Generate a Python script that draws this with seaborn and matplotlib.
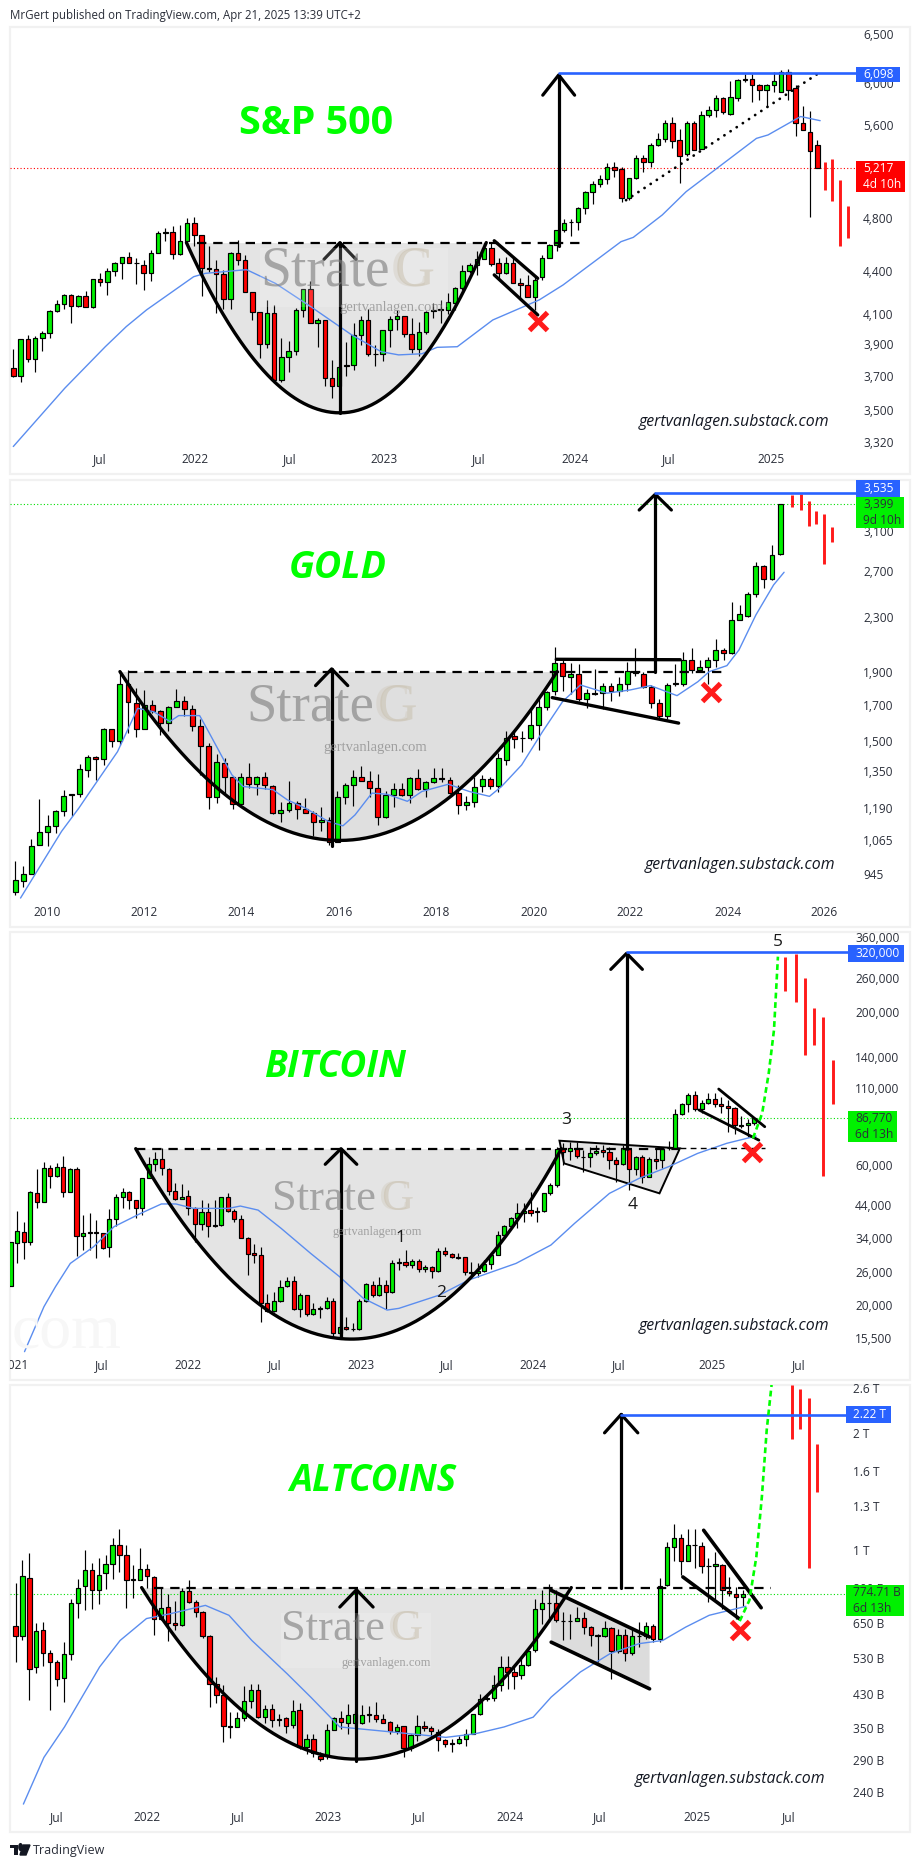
import numpy as np
import seaborn as sns
import matplotlib
matplotlib.use('Agg')
import matplotlib.pyplot as plt
from matplotlib.patches import Rectangle, Circle, Polygon
from matplotlib.ticker import NullLocator

W, H = 914, 1867
GREEN = '#00f000'
RED = '#ff0000'
BLUE = '#2962ff'
MA_BLUE = '#5b8def'
TEXT = '#2a2e39'

# S&P 500
sp_open = [3753,3702,3936,3809,3942,3975,4118,4168,4230,4152,
    4223,4147,4342,4321,4400,4458,4502,4460,4448,4385,
    4532,4684,4692,4525,4621,4761,4668,4421,4414,4378,
    4203,4532,4480,4251,4113,3904,4107,3678,3821,3859,
    4127,4272,4040,4058,3692,3639,3768,3768,3959,4058,
    3840,3838,3994,4067,4085,3968,3871,3979,4120,4134,
    4125,4178,4278,4404,4442,4490,4574,4457,4388,4457,
    4318,4304,4215,4355,4500,4592,4708,4773,4768,4880,
    5010,5077,5119,5222,5205,4960,5127,5298,5270,5413,
    5467,5612,5458,5335,5621,5384,5694,5737,5853,5704,
    5853,6035,6035,5976,5935,5983,5914,6105,5947,5612,
    5535,5419]
sp_close = [3702,3936,3809,3942,3975,4120,4168,4230,4152,4223,
    4147,4342,4321,4400,4458,4502,4458,4456,4385,4532,
    4684,4692,4525,4621,4761,4668,4421,4414,4378,4203,
    4532,4480,4251,4113,3904,4107,3678,3821,3859,4127,
    4272,4040,4058,3692,3639,3760,3764,3959,4058,3840,
    3838,3994,4067,4085,3968,3871,3979,4111,4125,4129,
    4180,4278,4404,4442,4490,4574,4455,4388,4457,4318,
    4302,4215,4336,4500,4592,4708,4766,4768,4880,5010,
    5077,5119,5222,5202,4960,5127,5298,5270,5413,5467,
    5612,5449,5322,5621,5375,5694,5734,5853,5720,5863,
    6025,6028,5976,5928,5983,6014,6105,5930,5612,5550,
    5366,5217]
sp_high = [3871,3936,3961,3957,3990,4129,4193,4240,4240,4232,
    4260,4347,4385,4424,4470,4502,4542,4495,4478,4556,
    4704,4723,4740,4748,4800,4808,4668,4586,4482,4409,
    4542,4631,4519,4251,4113,4198,4164,3942,3920,4138,
    4272,4326,4074,4063,3800,3760,3918,4040,4085,4134,
    3899,3994,4089,4129,4089,4074,4049,4118,4175,4198,
    4244,4290,4447,4460,4545,4606,4620,4494,4506,4506,
    4348,4372,4360,4518,4600,4708,4791,4791,4893,5024,
    5105,5155,5256,5270,5228,5127,5327,5327,5437,5522,
    5649,5668,5561,5634,5637,5728,5775,5880,5865,6021,
    6035,6088,6088,5992,5992,6110,6127,6135,5976,5777,
    5729,5460]
sp_low = [3696,3666,3788,3727,3857,3940,4111,4133,4040,4147,
    4145,4143,4291,4234,4368,4347,4458,4305,4267,4326,
    4532,4626,4492,4522,4586,4586,4221,4397,4107,4136,
    4134,4445,4249,4063,3811,3878,3662,3666,3727,3835,
    4078,4040,3884,3643,3571,3639,3702,3739,3899,3825,
    3764,3794,3884,3992,3949,3842,3825,3964,4072,4040,
    4102,4128,4266,4385,4373,4487,4437,4336,4383,4312,
    4196,4215,4128,4336,4493,4545,4695,4663,4708,4834,
    4915,5052,5080,5141,4933,4947,5122,5183,5228,5407,
    5446,5389,5090,5320,5375,5378,5669,5669,5704,5694,
    5823,6010,5815,5833,5765,5914,5907,5833,5500,5550,
    4810,5217]
sp_ma_x = [0,7.1,12.7,15.6,18.4,24.9,26.5,32.2,36.2,41.1,46.7,50.8,53.2,56.4,58.5,61.3,
    66.2,72.6,75.9,83.9,85.6,89.6,92.9,102.6,104.2,108.7,111.4]
sp_ma = [3296,3628,3885,4016,4128,4360,4384,4411,4312,4149,3962,3853,3833,3840,3881,3885,
    4060,4196,4301,4619,4652,4827,5016,5476,5507,5677,5638]
sp_proj_x = [112.1,113.1,114.1,115.2]
sp_proj_hi = [5266,5293,5112,4897]
sp_proj_lo = [5029,4940,4590,4650]
sp_ticks = [6500,6000,5600,4800,4400,4100,3900,3700,3500,3320]
sp_tick_labels = ['6,500','6,000','5,600','4,800','4,400','4,100','3,900','3,700','3,500','3,320']
sp_dates = [12,25.1,38.2,51.2,64.3,77.5,90.5,104.6]
sp_date_labels = ['Jul','2022','Jul','2023','Jul','2024','Jul','2025']

# Gold
gold_open = [887,923,947,1045,1094,1115,1175,1242,1245,1354,
    1416,1406,1560,1497,1824,1710,1560,1695,1660,1593,
    1688,1719,1672,1578,1475,1233,1390,1321,1203,1324,
    1290,1324,1284,1169,1179,1210,1183,1169,1130,1138,
    1057,1236,1288,1321,1306,1272,1150,1244,1267,1241,
    1316,1267,1299,1316,1311,1250,1200,1211,1280,1314,
    1280,1404,1524,1515,1514,1586,1685,1782,1961,1872,
    1892,1733,1768,1770,1811,1781,1823,1904,1892,1807,
    1708,1633,1829,1827,1986,1915,1935,1980,2050,2030,
    2280,2312,2493,2744,2624,2865]
gold_close = [925,947,1043,1094,1115,1175,1240,1246,1358,1416,
    1406,1560,1497,1824,1712,1560,1695,1660,1593,1688,
    1719,1672,1578,1475,1233,1392,1321,1203,1324,1290,
    1324,1287,1169,1179,1210,1183,1169,1130,1138,1057,
    1236,1288,1321,1306,1272,1150,1244,1267,1241,1316,
    1267,1299,1316,1315,1250,1200,1211,1279,1314,1280,
    1412,1516,1508,1512,1586,1685,1778,1961,1877,1892,
    1733,1768,1764,1811,1781,1823,1906,1896,1807,1708,
    1633,1821,1825,1986,1919,1935,1980,2050,2030,2280,
    2325,2496,2744,2624,2851,3399]
gold_high = [988,973,1069,1224,1160,1180,1264,1246,1384,1427,
    1423,1566,1564,1909,1916,1798,1788,1727,1668,1691,
    1792,1751,1697,1615,1486,1432,1411,1324,1340,1387,
    1327,1345,1287,1214,1304,1218,1228,1176,1192,1153,
    1261,1294,1355,1374,1352,1336,1261,1294,1294,1324,
    1358,1305,1363,1363,1321,1287,1238,1324,1330,1322,
    1439,1551,1556,1549,1684,1737,1782,2075,1984,1961,
    1957,1794,1920,1831,1831,1870,1967,2064,1904,1820,
    1734,1831,1957,2036,2064,1982,2004,2133,2064,2428,
    2398,2513,2781,2757,2954,3399]
gold_low = [879,904,947,1045,1043,1088,1156,1157,1236,1324,
    1309,1379,1466,1479,1539,1521,1560,1649,1530,1553,
    1686,1634,1553,1332,1183,1210,1250,1183,1203,1272,
    1243,1269,1163,1133,1173,1143,1167,1078,1098,1045,
    1057,1205,1195,1306,1236,1120,1146,1193,1238,1207,
    1264,1236,1297,1302,1246,1163,1180,1193,1254,1270,
    1254,1377,1461,1444,1505,1452,1669,1758,1782,1765,
    1720,1679,1758,1675,1722,1752,1781,1874,1801,1682,
    1619,1619,1812,1812,1895,1905,1825,1935,1984,2024,
    2275,2304,2470,2543,2618,2854]
gold_ma_x = [.65,5.75,7.9,9,12.7,15.2,17.2,19.2,20.3,22.9,24,26.9,28.3,32,33.8,36,38.9,40.7,42.2,
    44.3,46.2,48.7,50.5,53.8,56.4,58.9,60.4,62.9,65.5,68,70.2,73.5,76.4,78.9,82.2,84.8,86.2,88.4,
    89.9,92,94.2,95.5]
gold_ma = [870,1096,1188,1243,1444,1678,1658,1603,1636,1636,1548,1333,1280,1266,1222,1188,1134,1117,1160,
    1251,1246,1216,1258,1290,1258,1237,1280,1379,1548,1718,1819,1768,1788,1815,1753,1840,1905,1945,
    2054,2318,2572,2687]
gold_proj_x = [96.5,97.6,98.6,99.5,100.5,101.5]
gold_proj_hi = [3512,3520,3439,3322,3291,3147]
gold_proj_lo = [3372,3333,3157,3176,2761,2988]
gold_ticks = [3100,2700,2300,1900,1700,1500,1350,1190,1065,945]
gold_tick_labels = ['3,100','2,700','2,300','1,900','1,700','1,500','1,350','1,190','1,065','945']
gold_dates = [3.9,16,28.1,40.2,52.3,64.4,76.4,88.5,100.5]
gold_date_labels = ['2010','2012','2014','2016','2018','2020','2022','2024','2026']

# Bitcoin
btc_open = [23310,32550,35430,32930,48110,44830,58530,55260,59300,48740,
    58070,34520,35600,35430,35160,31510,39440,46610,48480,45530,
    42760,54110,60540,62800,58070,48860,46140,46980,42760,37720,
    41660,37450,37450,46610,41880,39230,33810,30060,29590,20410,
    19160,20620,23260,24130,19370,21610,18680,19520,19520,20730,
    16130,16910,16650,16570,20730,23510,21610,23380,22130,27780,
    28160,27350,28390,26620,26930,26130,30530,30000,29190,29100,
    25900,25690,26130,27640,29750,34810,37140,39540,41130,42100,
    41770,41770,48110,51290,68080,66830,68430,64100,63760,65870,
    67710,66370,62350,60370,67920,58010,63760,54770,63100,62510,
    68430,68430,89500,96640,103700,93110,97420,100550,96640,95200,
    93700,81900,81900,83300]
btc_close = [32760,35700,32930,48480,44830,58530,55260,59300,48740,58070,
    34520,35340,35300,35200,31420,39440,46610,48480,45530,42760,
    54110,60540,62800,58530,48990,46020,46860,42760,37720,41660,
    37330,37200,46610,41880,39230,33810,29890,29590,20410,19160,
    20620,23140,24130,19370,21610,18680,19370,19420,20730,16130,
    16910,16650,16570,20730,23570,21610,23380,22130,27780,28160,
    27350,28390,26620,26930,26130,30530,30000,29100,29020,25900,
    25690,26130,27640,29750,34810,37140,39540,41130,41990,41340,
    41560,48110,51290,68080,66680,68790,64270,63760,65870,67180,
    66680,62510,60530,68430,58010,63760,54770,63100,62180,68250,
    68600,89500,96640,104000,93110,97420,100550,96640,95200,93700,
    81900,81700,83300,86770]
btc_high = [32760,41990,38320,49130,58220,61350,60080,61190,64470,58530,
    58980,40590,41130,39030,35340,42430,47850,50030,49130,45660,
    54110,64130,66700,68460,58530,52030,51620,49370,43330,45660,
    44470,45660,46860,48110,42540,40590,34090,32330,31510,21850,
    22250,24380,24890,25150,21960,21670,20320,19880,21400,21130,
    17500,18190,17450,20950,23750,24260,25020,24380,28520,28900,
    30840,28680,28680,27420,27210,31280,31510,30220,30060,29270,
    28160,27780,28520,30060,35920,37520,40060,44470,44470,48740,
    43330,48360,52030,69400,71160,72100,72100,67350,69400,70150,
    70500,69400,64100,70150,68430,64440,64840,63760,68430,69400,
    72630,93110,97960,105370,107280,100010,105880,105370,102640,100010,
    94930,87900,86100,86800]
btc_low = [23310,27780,28750,32080,42990,44830,50290,54830,46860,48740,
    29510,30840,30840,29000,31010,29270,37230,42760,42430,39540,
    40690,54110,57470,55400,47480,45660,45900,40590,32930,36090,
    34240,37040,37200,41660,38520,33810,25350,27920,17580,19010,
    19010,20480,23140,19270,18190,18430,18530,18060,19370,15640,
    15640,16490,16300,16490,20570,21290,21500,19420,21960,26380,
    27070,26700,25900,25900,24820,26060,29460,28900,28680,25350,
    25020,24890,25900,26550,29670,34520,36850,36570,38520,40300,
    38520,41660,47480,50700,60050,62510,63270,56990,59360,64840,
    64100,58180,52750,60050,49500,55640,52000,54620,58010,58500,
    67350,67900,88980,90760,92000,90090,96860,94930,90090,78000,
    76400,80100,75000,82500]
btc_ma_x = [2.1,5.05,6.8,9.06,12.6,15.7,19.75,22.9,25.1,27.8,33.1,34.9,37.6,41.1,45.6,50,53.6,57.2,59,
    65.2,69.6,76.8,82.1,85.7,91,95.5,100,104.4,108.8,113.3]
btc_ma = [13900,19770,23120,27770,31650,37030,41100,44260,44260,42750,42750,43540,42180,36550,30020,25000,
    21110,19260,19520,21680,24370,27770,32070,38020,48100,54100,59300,65800,71180,75400]
btc_proj_x = [117.7,119.3,120.7,122.1,123.5,125]
btc_proj_hi = [306100,314200,259700,205200,191200,136800]
btc_proj_lo = [235700,216200,142300,153900,55200,97200]
btc_path_x = [112.8,114.2,115.2,116,116.6]
btc_path = [74000,90000,123300,173100,307700]
btc_ticks = [360000,260000,200000,140000,110000,60000,44000,34000,26000,20000,15500]
btc_tick_labels = ['360,000','260,000','200,000','140,000','110,000','60,000','44,000','34,000','26,000','20,000','15,500']
btc_dates = [.7,13.9,27,40.1,53.2,66.3,79.4,92.4,106.6,119.7]
btc_date_labels = ['2021','Jul','2022','Jul','2023','Jul','2024','Jul','2025','Jul']

# Altcoins market cap, billions
alt_open = [640,605,851,502,627,547,519,471,544,735,
    809,890,791,877,925,1035,972,843,840,898,
    855,666,716,653,644,789,738,695,604,455,
    427,354,352,372,411,439,375,392,369,372,
    358,390,313,328,297,297,346,372,361,361,
    362,380,379,369,363,345,354,312,336,355,
    351,342,326,321,321,328,338,381,416,418,
    452,504,487,480,509,556,708,733,733,660,
    661,660,671,636,608,602,633,551,608,545,
    604,604,642,594,814,1020,1076,941,1035,1027,
    913,913,918,787,772,761]
alt_close = [604,862,497,623,547,519,469,544,735,803,
    890,794,867,925,1035,972,842,840,898,862,
    666,711,653,644,789,738,695,604,455,427,
    354,352,372,411,439,375,392,368,368,356,
    387,313,328,302,292,346,372,364,379,380,
    379,378,369,362,345,352,312,336,355,351,
    344,326,319,320,328,338,381,416,418,452,
    504,487,477,509,554,708,733,735,663,659,
    660,671,635,608,602,633,551,608,545,602,
    602,642,594,811,1020,1076,941,1035,1031,910,
    910,923,790,778,761,775]
alt_high = [825,943,987,652,654,556,523,583,752,846,
    1001,930,957,972,1078,1137,1031,919,1017,925,
    858,806,775,741,800,842,747,698,606,473,
    451,385,385,449,455,455,401,403,382,375,
    414,407,338,338,304,359,374,388,404,388,
    401,399,408,380,365,359,355,338,378,366,
    356,348,328,328,335,348,382,430,429,479,
    536,536,502,538,560,751,794,822,794,695,
    689,717,695,639,611,660,636,630,630,636,
    654,655,649,849,1052,1165,1104,1137,1137,1052,
    955,993,923,855,806,794]
alt_low = [517,590,415,485,507,391,449,410,523,671,
    702,706,731,797,843,881,710,755,840,800,
    606,662,586,624,639,734,675,598,396,407,
    323,331,352,365,395,373,361,352,355,340,
    351,310,301,296,288,292,346,348,338,352,
    359,363,363,361,338,338,295,307,325,344,
    331,307,313,304,319,316,338,379,412,412,
    437,442,442,468,505,548,649,656,655,589,
    594,658,611,570,519,601,469,547,522,539,
    566,592,584,582,811,938,864,939,902,873,
    738,751,708,766,669,720]
alt_ma_x = [1.14,4.1,7.07,12.14,15.1,18.9,22.3,27.4,30.8,34.1,39.2,42.6,46.8,51.9,57,62.1,66.3,70.5,
    74.7,77.3,81.5,85.8,90,93.4,96.7,100.1,105.4]
alt_ma = [224,295,353,503,588,669,688,723,682,588,483,421,353,346,339,332,339,353,
    374,421,488,544,577,588,636,682,719]
alt_proj_x = [112.1,113.2,114.5,115.6]
alt_proj_hi = [2652,2590,2451,1872]
alt_proj_lo = [1928,2045,902,1412]
alt_path_x = [104.5,105.9,106.9,107.7,108.4,109.1]
alt_path = [659,745,962,1371,2033,2652]
alt_ticks = [2600,2000,1600,1300,1000,800,650,530,430,350,290,240]
alt_tick_labels = ['2.6 T','2 T','1.6 T','1.3 T','1 T','800 B','650 B','530 B','430 B','350 B','290 B','240 B']
alt_dates = [5.9,19,32.1,45.1,58.2,71.4,84.3,98.4,111.6]
alt_date_labels = ['Jul','2022','Jul','2023','Jul','2024','Jul','2025','Jul']


def px_axes(fig, x0, y0, x1, y1):
    ax = fig.add_axes([x0 / W, 1 - y1 / H, (x1 - x0) / W, (y1 - y0) / H])
    ax.patch.set_alpha(0)
    return ax


def box(fig, x0, y0, x1, y1, color, **kw):
    r = Rectangle((x0 / W, 1 - y1 / H), (x1 - x0) / W, (y1 - y0) / H,
                  transform=fig.transFigure, facecolor=color, edgecolor='none', **kw)
    fig.add_artist(r)


def label(fig, x, y, s, **kw):
    kw.setdefault('va', 'center')
    kw.setdefault('zorder', 7)
    return fig.text(x / W, 1 - y / H, s, **kw)


def candles(ax, o, h, l, c):
    o, h, l, c = map(np.asarray, (o, h, l, c))
    x = np.arange(len(o))
    ax.vlines(x, l, h, color='black', linewidth=0.85, zorder=2.9)
    colors = [GREEN if b >= a else RED for a, b in zip(o, c)]
    ax.bar(x, np.abs(c - o), bottom=np.minimum(o, c), width=0.62, color=colors,
           edgecolor='black', linewidth=0.85, zorder=3)


def cup(ax, left, mid, right, top, bottom, fill):
    xs = np.linspace(left, right, 200)
    half = np.where(xs < mid, mid - left, right - mid)
    t = (xs - mid) / half
    ys = np.exp(np.log(bottom) + (np.log(top) - np.log(bottom)) * t ** 2)
    ax.fill_between(xs, ys, top, color=fill, linewidth=0, zorder=1)
    ax.plot(xs, ys, color='black', linewidth=2.4, zorder=4, solid_capstyle='round')


def arrow(ax, x, base, tip, head, half):
    ax.plot([x, x], [base, tip], color='black', linewidth=2.3, zorder=4)
    ax.plot([x - half, x, x + half], [head, tip, head], color='black', linewidth=2.3, zorder=4)


def seg(ax, xs, ys, lw=2.4):
    ax.plot(xs, ys, color='black', linewidth=lw, zorder=4, solid_capstyle='round')


def dashed(ax, x0, x1, y, lw=1.6):
    ax.plot([x0, x1], [y, y], color='black', linewidth=lw, linestyle=(0, (4.2, 3.1)), zorder=4)


def cross(ax, x, y):
    ax.plot([x], [y], marker='x', markersize=13.5, markeredgewidth=3.6, color='#ff1a1a', zorder=5)


def panel(ax, x_per, x_first, x0, x1, ylim, ticks, tick_labels, dates, date_labels, ma_x, ma):
    ax.set_yscale('log')
    sns.lineplot(x=ma_x, y=ma, ax=ax, color=MA_BLUE, linewidth=1.0, estimator=None, sort=False, zorder=3.5)
    ax.set_xlim((x0 - x_first) / x_per, (x1 - x_first) / x_per)
    ax.set_ylim(*ylim)
    ax.yaxis.tick_right()
    ax.set_yticks(ticks, tick_labels)
    ax.yaxis.set_minor_locator(NullLocator())
    ax.set_xticks(dates, date_labels)
    ax.tick_params(axis='y', length=0, labelsize=8.6, pad=5.2, labelcolor=TEXT)
    ax.tick_params(axis='x', length=0, labelsize=8.6, pad=-15, labelcolor=TEXT)
    ax.set_xlabel('')
    ax.set_ylabel('')
    sns.despine(ax=ax, left=True, right=True, top=True, bottom=True)


def projection(ax, xs, hi, lo):
    ax.vlines(xs, lo, hi, color='#ff1a1a', linewidth=2.1, zorder=3.6)


def price_line(ax, y, color):
    ax.axhline(y, color=color, linewidth=0.8, linestyle=(0, (1, 2)), zorder=2)


def blue_line(ax, x, y):
    ax.plot([x, ax.get_xlim()[1]], [y, y], color=BLUE, linewidth=1.9, zorder=4.5)


def watermark(fig, x, y, size, gx, site_x, site_y, site_size):
    label(fig, x, y, 'Strate', family='Liberation Serif', fontsize=size, color='#7d7d7d', alpha=0.62, ha='left')
    label(fig, gx, y, 'G', family='Liberation Serif', fontsize=size, color='#c9c0ae', alpha=0.55, ha='left')
    label(fig, gx - size * 0.1, y, 'C', family='Liberation Serif', fontsize=size, color='#c9c0ae', alpha=0.3, ha='left')
    label(fig, site_x, site_y, 'gertvanlagen.com', family='Liberation Serif', fontsize=site_size,
          color='#8a8a8a', alpha=0.75, ha='center')


def title(fig, x, y, s, size, italic=True):
    label(fig, x, y, s, color='#00ff00', fontsize=size, fontweight='bold',
          style='italic' if italic else 'normal', ha='center')


def site(fig, x, y):
    label(fig, x, y, 'gertvanlagen.substack.com', style='italic', fontsize=11.4, color='#131722', ha='center')


def tag(fig, x0, y0, x1, y1, color, lines, tcolor, tx):
    box(fig, x0, y0, x1, y1, color, zorder=6)
    n = len(lines)
    step = (y1 - y0) / n
    for i, s in enumerate(lines):
        label(fig, tx, y0 + step * (i + 0.5), s, color=tcolor, fontsize=8.6, ha='left')


sns.set_style('white')
plt.rcParams['font.family'] = ['Open Sans', 'DejaVu Sans']

fig = plt.figure(figsize=(W / 100, H / 100), dpi=100, facecolor='white')

for y0, y1 in [(27, 474), (480, 927), (932, 1380), (1385, 1832)]:
    fig.add_artist(Rectangle((10 / W, 1 - y1 / H), 900 / W, (y1 - y0) / H, transform=fig.transFigure,
                             facecolor='none', edgecolor='#f1f1f1', linewidth=1.6, zorder=0))

label(fig, 10, 15, 'MrGert published on TradingView.com, Apr 21, 2025 13:39 UTC+2', fontsize=8.3, color=TEXT, ha='left')

# S&P 500 panel
ax = px_axes(fig, 10, 27, 856, 474)
panel(ax, 7.243, 13.3, 10, 856, (3150, 6579), sp_ticks, sp_tick_labels, sp_dates, sp_date_labels, sp_ma_x, sp_ma)
price_line(ax, 5217, RED)
cup(ax, 23.9, 45.1, 65.3, 4612, 3484, '#e4e4e4')
ax.fill([66.4, 72.4, 72.4, 66.4], [4626, 4348, 4094, 4373], color='#f0f0f0', linewidth=0, zorder=1)
candles(ax, sp_open, sp_high, sp_low, sp_close)
projection(ax, sp_proj_x, sp_proj_hi, sp_proj_lo)
dashed(ax, 25.3, 78.3, 4612)
arrow(ax, 45.1, 3484, 4612, 4487, 2.2)
arrow(ax, 75.3, 4590, 6079, 5880, 2.2)
blue_line(ax, 75.3, 6098)
seg(ax, [66.4, 72.4], [4626, 4348])
seg(ax, [66.4, 72.4], [4373, 4094])
ax.plot([84.6, 111.5], [4946, 6112], color='black', linewidth=2.0, linestyle=(0, (0.05, 2.6)),
        dash_capstyle='round', zorder=4)
cross(ax, 72.4, 4050)
box(fig, 260, 248, 448, 307, 'white', alpha=0.18, zorder=5)
watermark(fig, 260, 271, 40, 395, 391, 308, 10.5)
title(fig, 316, 123, 'S&P 500', 28.5, italic=False)
site(fig, 734, 422)
tag(fig, 856, 67, 900, 82, BLUE, ['6,098'], 'white', 863)
tag(fig, 856, 161, 905, 192, RED, ['5,217', '4d 10h'], 'white', 863)

# Gold panel
ax = px_axes(fig, 10, 480, 856, 927)
panel(ax, 8.05, 15.3, 10, 856, (787, 3698), gold_ticks, gold_tick_labels, gold_dates, gold_date_labels, gold_ma_x, gold_ma)
price_line(ax, 3399, '#00e000')
cup(ax, 13, 40.3, 67.3, 1905, 1062, '#dfdfdf')
candles(ax, gold_open, gold_high, gold_low, gold_close)
projection(ax, gold_proj_x, gold_proj_hi, gold_proj_lo)
dashed(ax, 14, 88.4, 1905)
arrow(ax, 39.3, 1043, 1923, 1815, 2)
arrow(ax, 79.5, 1905, 3520, 3333, 2)
blue_line(ax, 79.5, 3535)
seg(ax, [67.2, 82.6], [1988, 1985])
seg(ax, [66.7, 82.4], [1741, 1594])
cross(ax, 86.4, 1778)
watermark(fig, 246, 707, 39.5, 378, 375, 748, 10.5)
title(fig, 338, 568, 'GOLD', 27)
site(fig, 740, 865)
tag(fig, 856, 480, 900, 497, BLUE, ['3,535'], 'white', 863)
tag(fig, 856, 497, 904, 528, '#00f000', ['3,399', '9d 10h'], TEXT, 863)

# Bitcoin panel
ax = px_axes(fig, 10, 932, 848, 1380)
panel(ax, 6.58, 10.7, 10, 848, (11130, 373400), btc_ticks, btc_tick_labels, btc_dates, btc_date_labels, btc_ma_x, btc_ma)
first = ax.get_xticklabels()[0]
first.set_clip_box(ax.bbox)
first.set_clip_on(True)
price_line(ax, 86770, '#00e000')
cup(ax, 19, 51.8, 83.7, 68270, 15340, '#e4e4e4')
ax.add_patch(Polygon([(83.4, 72680), (101.7, 68440), (98.6, 48100), (84.1, 60840)], closed=True,
                     facecolor='#e4e4e4', edgecolor='black', linewidth=1.4, zorder=1.5))
candles(ax, btc_open, btc_high, btc_low, btc_close)
projection(ax, btc_proj_x, btc_proj_hi, btc_proj_lo)
dashed(ax, 19, 101.7, 68270)
dashed(ax, 101.7, 114.6, 68800, lw=1.0)
arrow(ax, 50.2, 15420, 68270, 60400, 2.4)
arrow(ax, 93.6, 68270, 315900, 278600, 2.4)
blue_line(ax, 93.6, 320000)
seg(ax, [107.6, 114.6], [109000, 81100], lw=2.0)
seg(ax, [104.6, 113.7], [92500, 73000], lw=2.0)
ax.plot(btc_path_x, btc_path, color='#00ff00', linewidth=1.9, linestyle=(0, (2.2, 1.4)), zorder=5)
cross(ax, 112.7, 66700)
watermark(fig, 272, 1199, 32, 381, 377, 1232, 9)
label(fig, 12, 1332, 'com', family='Liberation Serif', fontsize=46, color='#f7f7f7', ha='left', zorder=0.5)
title(fig, 335, 1067, 'BITCOIN', 26.6)
site(fig, 734, 1326)
for x, y, s in [(566, 1120, '3'), (633, 1205, '4'), (778, 942, '5'), (400, 1238, '1'), (441, 1293, '2')]:
    label(fig, x, y, s, fontsize=12.5, color='#1a1a1a', ha='center')
tag(fig, 848, 945, 904, 962, BLUE, ['320,000'], 'white', 855)
tag(fig, 848, 1111, 897, 1142, '#00f000', ['86,770', '6d 13h'], TEXT, 855)

# Altcoins panel
ax = px_axes(fig, 10, 1385, 846, 1832)
panel(ax, 6.93, 15.5, 10, 846, (190, 2652), alt_ticks, alt_tick_labels, alt_dates, alt_date_labels, alt_ma_x, alt_ma)
price_line(ax, 774.71, '#00e000')
cup(ax, 18.2, 49.2, 80.2, 803, 292, '#e4e4e4')
ax.fill([77.3, 91.5, 91.5, 77.3], [790, 600, 442, 582], color='#dcdcdc', linewidth=0, zorder=1)
candles(ax, alt_open, alt_high, alt_low, alt_close)
projection(ax, alt_proj_x, alt_proj_hi, alt_proj_lo)
dashed(ax, 20, 109, 803)
arrow(ax, 49.2, 288, 793, 716, 2.4)
arrow(ax, 87.4, 803, 2230, 2000, 2.4)
blue_line(ax, 87.4, 2220)
seg(ax, [77.3, 91.5], [790, 600], lw=2.6)
seg(ax, [77.3, 91.5], [582, 442], lw=2.6)
seg(ax, [99.3, 107.6], [1126, 713], lw=2.6)
seg(ax, [96.3, 104.4], [855, 669], lw=2.6)
ax.plot(alt_path_x, alt_path, color='#00ff00', linewidth=1.9, linestyle=(0, (2.2, 1.4)), zorder=5)
cross(ax, 104.5, 624)
box(fig, 281, 1613, 431, 1668, 'white', alpha=0.18, zorder=5)
watermark(fig, 281, 1629, 32, 390, 386, 1663, 9)
title(fig, 373, 1481, 'ALTCOINS', 26.4)
site(fig, 730, 1779)
tag(fig, 846, 1406, 891, 1423, BLUE, ['2.22 T'], 'white', 853)
tag(fig, 846, 1585, 904, 1616, '#00f000', ['774.71 B', '6d 13h'], TEXT, 853)

# footer logo
box(fig, 10, 1845, 18, 1848, '#131722', zorder=6)
box(fig, 14, 1845, 18, 1855, '#131722', zorder=6)
fig.add_artist(Circle((20.5 / W, 1 - 1847 / H), 0.0018, transform=fig.transFigure, color='#131722', zorder=6))
fig.add_artist(Polygon([(23 / W, 1 - 1845 / H), (30 / W, 1 - 1845 / H), (26 / W, 1 - 1855 / H), (20 / W, 1 - 1855 / H)],
                       closed=True, transform=fig.transFigure, color='#131722', zorder=6))
label(fig, 33, 1850, 'TradingView', fontsize=9, color=TEXT, ha='left')

fig.savefig('out.png', dpi=100, facecolor='white')
